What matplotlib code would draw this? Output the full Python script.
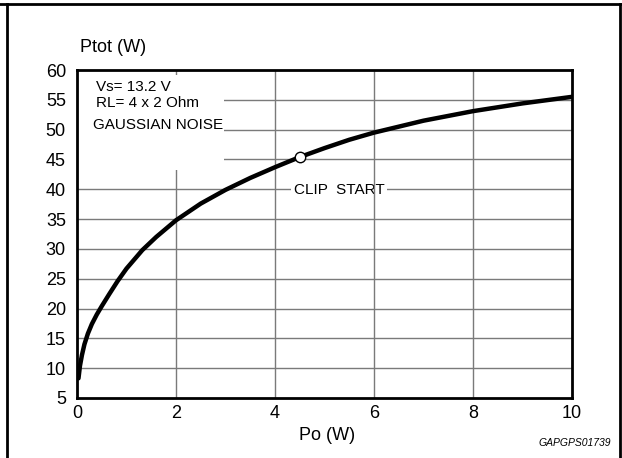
import matplotlib
matplotlib.use("Agg")
import matplotlib.pyplot as plt
from matplotlib.lines import Line2D
from matplotlib.patches import Rectangle

plt.rcParams['font.family'] = ['Liberation Sans', 'DejaVu Sans']

# Data
po = [0.03, 0.06, 0.10, 0.15, 0.22, 0.30, 0.40, 0.50, 0.65, 0.82, 1.0, 1.32,
      1.6, 2.0, 2.5, 3.0, 3.5, 4.0, 4.5, 5.0, 5.5, 6.0, 7.0, 8.0, 9.0, 10.0]
ptot = [8.3, 10.4, 12.2, 14.0, 15.8, 17.4, 19.0, 20.4, 22.4, 24.6, 26.7, 29.8,
        32.0, 34.8, 37.6, 39.9, 41.9, 43.7, 45.4, 46.9, 48.3, 49.5, 51.5, 53.1,
        54.4, 55.5]
clip_x = [4.5]
clip_y = [45.4]
x_ticks = [0, 2, 4, 6, 8, 10]
y_ticks = [5, 10, 15, 20, 25, 30, 35, 40, 45, 50, 55, 60]

W, H = 622, 458
fig = plt.figure(figsize=(W / 100, H / 100), dpi=100)
ax = fig.add_axes([77 / W, 1 - 398 / H, (572 - 77) / W, (398 - 70) / H])

ax.set_xlim(0, 10)
ax.set_ylim(5, 60)
ax.set_xticks(x_ticks)
ax.set_yticks(y_ticks)
ax.tick_params(length=0, labelsize=13, pad=8, colors='black')
ax.tick_params(axis='x', pad=5)

grid_c = '#7a7a7a'
for yv in y_ticks[1:-1]:
    ax.axhline(yv, color=grid_c, lw=1.0, zorder=1)
for xv in x_ticks[1:-1]:
    ax.axvline(xv, color=grid_c, lw=1.0, zorder=2)

# CLIP START label (blanks horizontal grid only)
ax.text(5.3, 39.9, 'CLIP  START', fontsize=11, ha='center', va='center',
        zorder=1.5, bbox=dict(facecolor='white', edgecolor='none', pad=2))

# Info box (blanks grid lines)
ax.add_patch(Rectangle((0.02, 43.3), 2.95, 15.9, facecolor='white',
                       edgecolor='none', zorder=2.5))
ax.text(0.38, 58.4, 'Vs= 13.2 V\nRL= 4 x 2 Ohm', fontsize=11, ha='left',
        va='top', zorder=2.6, linespacing=1.2)
ax.text(0.32, 50.7, 'GAUSSIAN NOISE', fontsize=11, ha='left', va='center',
        zorder=2.6, bbox=dict(facecolor='white', edgecolor='none', pad=1))

ax.plot(po, ptot, color='black', lw=3.2, solid_capstyle='round',
        solid_joinstyle='round', zorder=3)
ax.plot(clip_x, clip_y, 'o', ms=7.5, mfc='white', mec='black', mew=1.0,
        zorder=4)

for s in ax.spines.values():
    s.set_linewidth(2.0)
    s.set_zorder(5)

fig.text(80 / W, 1 - 48 / H, 'Ptot (W)', fontsize=13, ha='left', va='center')
fig.text(327 / W, 1 - 436 / H, 'Po (W)', fontsize=13, ha='center', va='center')
fig.text(611 / W, 1 - 443 / H, 'GAPGPS01739', fontsize=7.5, style='italic',
         ha='right', va='center')

# outer frame
fig.add_artist(Line2D([0, 1], [1 - 4 / H, 1 - 4 / H], color='black', lw=2.0,
                      transform=fig.transFigure))
fig.add_artist(Line2D([7.5 / W, 7.5 / W], [0, 1 - 4 / H], color='black',
                      lw=2.0, transform=fig.transFigure))
fig.add_artist(Line2D([619.5 / W, 619.5 / W], [0, 1 - 4 / H], color='black',
                      lw=2.0, transform=fig.transFigure))

fig.savefig('out.png', dpi=100)
